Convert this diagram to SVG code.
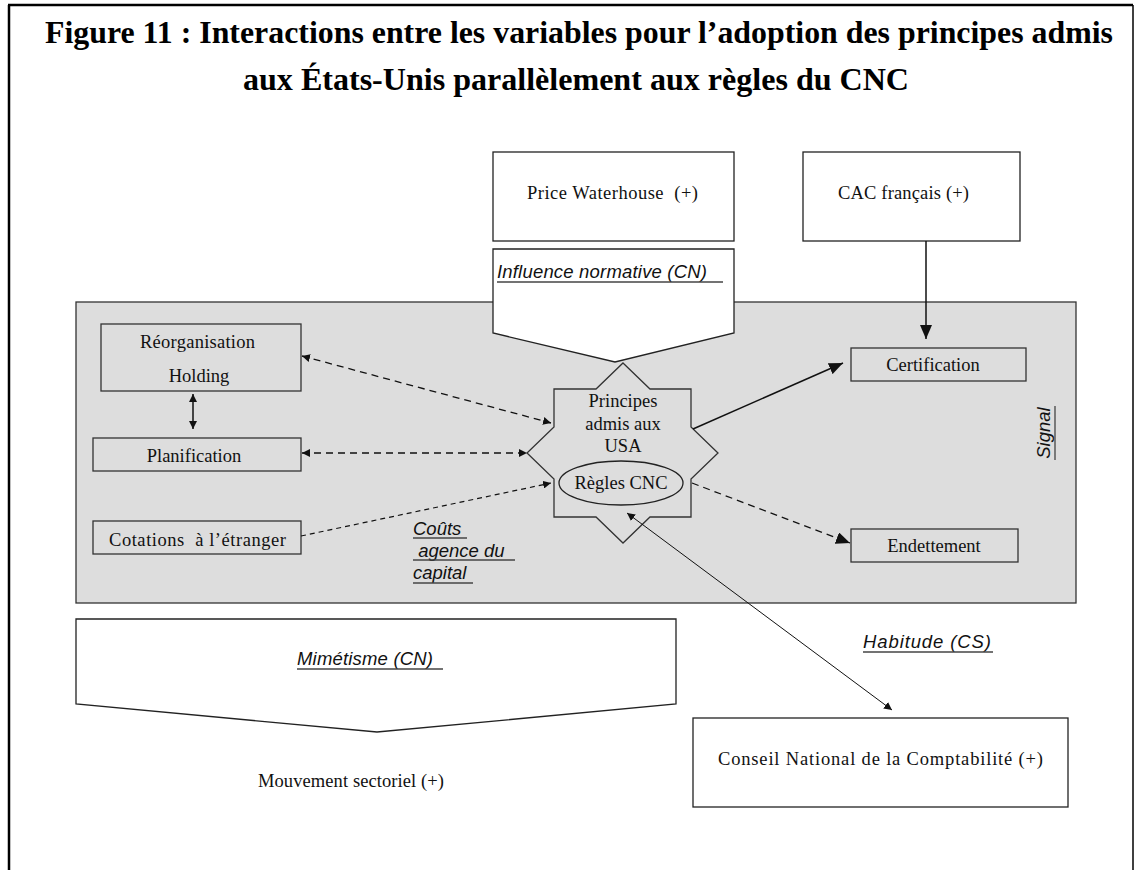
<svg xmlns="http://www.w3.org/2000/svg" width="1139" height="870" viewBox="0 0 1139 870">
<style>
.box{fill:#fff;stroke:#222;stroke-width:1.3}
.gbox{fill:#dddddd;stroke:#333;stroke-width:1.3}
.serif{font-family:"Liberation Serif","Times New Roman",serif;font-size:18.5px;fill:#111}
.ital{font-family:"Liberation Sans",Arial,sans-serif;font-style:italic;font-size:18.5px;fill:#111}
.ul{stroke:#444;stroke-width:1.3}
.title{font-family:"Liberation Serif","Times New Roman",serif;font-weight:bold;font-size:31px;fill:#000}
.dash{fill:none;stroke:#111;stroke-width:1.3;stroke-dasharray:7,5}
.dot{fill:none;stroke:#111;stroke-width:1.2;stroke-dasharray:5,4}
.solid{fill:none;stroke:#111;stroke-width:1.5}
.thin{fill:none;stroke:#111;stroke-width:1}
</style>
<defs>
<marker id="big" markerUnits="userSpaceOnUse" markerWidth="16" markerHeight="12" refX="14" refY="6" orient="auto"><path d="M0,0 L14,6 L0,12 z" fill="#111"/></marker>
<marker id="sm" markerUnits="userSpaceOnUse" markerWidth="10" markerHeight="8" refX="8" refY="4" orient="auto-start-reverse"><path d="M0,0 L8,4 L0,8 z" fill="#111"/></marker>
</defs>
<rect width="1139" height="870" fill="#fff"/>
<g id="frame" fill="none" stroke="#000">
<line x1="9" y1="5" x2="9" y2="870" stroke-width="2.5"/>
<line x1="8" y1="5" x2="1133" y2="5" stroke-width="2.5"/>
<line x1="1133" y1="5" x2="1133" y2="870" stroke-width="1.5"/>
</g>
<g id="title">
<text class="title" x="45" y="43" textLength="1068" lengthAdjust="spacingAndGlyphs">Figure 11 : Interactions entre les variables pour l’adoption des principes admis</text>
<text class="title" x="243" y="90" textLength="666" lengthAdjust="spacingAndGlyphs">aux États-Unis parallèlement aux règles du CNC</text>
</g>
<g id="signal-zone">
<rect class="gbox" x="76" y="302" width="1000" height="301"/>
<text class="ital" transform="translate(1050,433) rotate(-90)" text-anchor="middle">Signal</text>
<line class="ul" x1="1055" y1="406" x2="1055" y2="460"/>
</g>
<g id="price-waterhouse">
<rect class="box" x="493" y="152" width="241" height="89"/>
<text class="serif" x="527" y="199" textLength="171" xml:space="preserve">Price Waterhouse  (+)</text>
</g>
<g id="influence-normative">
<polygon class="box" points="493,249 734,249 734,333 615,362 493,333"/>
<text class="ital" x="497" y="278" textLength="210">Influence normative (CN)</text>
<line class="ul" x1="497" y1="282" x2="723" y2="282"/>
</g>
<g id="cac">
<rect class="box" x="803" y="152" width="217" height="89"/>
<text class="serif" x="838" y="199" textLength="131">CAC français (+)</text>
</g>
<g id="certification">
<rect class="gbox" x="851" y="348" width="175" height="33"/>
<text class="serif" x="933" y="371" text-anchor="middle">Certification</text>
</g>
<g id="endettement">
<rect class="gbox" x="851" y="529" width="167" height="33"/>
<text class="serif" x="934" y="552" text-anchor="middle">Endettement</text>
</g>
<g id="reorganisation">
<rect class="gbox" x="101" y="324" width="200" height="67"/>
<text class="serif" x="140" y="348" textLength="115">Réorganisation</text>
<text class="serif" x="199" y="382" text-anchor="middle">Holding</text>
</g>
<g id="planification">
<rect class="gbox" x="93" y="438" width="208" height="33"/>
<text class="serif" x="194" y="462" text-anchor="middle">Planification</text>
</g>
<g id="cotations">
<rect class="gbox" x="93" y="521" width="208" height="33"/>
<text class="serif" x="109" y="546" textLength="177" xml:space="preserve">Cotations  à l’étranger</text>
</g>
<g id="principes">
<polygon class="gbox" points="623,363 650,389 691,389 691,427 718,453 691,479 691,517 650,517 623,543 596,517 554,517 554,479 527,453 554,427 554,389 596,389"/>
<text class="serif" x="623" y="407" text-anchor="middle">Principes</text>
<text class="serif" x="623" y="430" text-anchor="middle">admis aux</text>
<text class="serif" x="623" y="452" text-anchor="middle">USA</text>
<ellipse cx="621" cy="483" rx="62" ry="22" fill="#dddddd" stroke="#222" stroke-width="1.3"/>
<text class="serif" x="621" y="489" text-anchor="middle" font-size="17">Règles CNC</text>
</g>
<g id="couts-agence">
<text class="ital" x="413" y="535">Coûts</text>
<line class="ul" x1="413" y1="538" x2="467" y2="538"/>
<text class="ital" x="413" y="557" xml:space="preserve"> agence du</text>
<line class="ul" x1="413" y1="560" x2="515" y2="560"/>
<text class="ital" x="413" y="579">capital</text>
<line class="ul" x1="413" y1="583" x2="473" y2="583"/>
</g>
<g id="mimetisme">
<polygon class="box" points="76,619 676,619 676,704 377,732 76,704"/>
<text class="ital" x="297" y="665" textLength="136">Mimétisme (CN)</text>
<line class="ul" x1="297" y1="669" x2="443" y2="669"/>
</g>
<g id="mouvement">
<text class="serif" x="258" y="787" textLength="186">Mouvement sectoriel (+)</text>
</g>
<g id="habitude">
<text class="ital" x="863" y="648" textLength="128">Habitude (CS)</text>
<line class="ul" x1="863" y1="652" x2="993" y2="652"/>
</g>
<g id="conseil">
<rect class="box" x="693" y="718" width="375" height="89"/>
<text class="serif" x="718" y="765" font-size="19.5" textLength="325">Conseil National de la Comptabilité (+)</text>
</g>
<g id="connectors">
<line class="solid" x1="926" y1="241" x2="926" y2="339" marker-end="url(#big)"/>
<line class="solid" x1="693" y1="429" x2="843" y2="363" marker-end="url(#big)"/>
<line class="dash" x1="692" y1="483" x2="850" y2="543" marker-end="url(#big)"/>
<line class="dash" x1="302" y1="356" x2="551" y2="423" marker-start="url(#sm)" marker-end="url(#sm)"/>
<line class="dash" x1="302" y1="453" x2="527" y2="453" marker-start="url(#sm)" marker-end="url(#sm)"/>
<line class="dot" x1="301" y1="536" x2="551" y2="483" marker-end="url(#sm)"/>
<line class="solid" x1="193" y1="394" x2="193" y2="429" marker-start="url(#sm)" marker-end="url(#sm)"/>
<line class="thin" x1="627" y1="513" x2="892" y2="710" marker-start="url(#sm)" marker-end="url(#sm)"/>
</g>
</svg>
